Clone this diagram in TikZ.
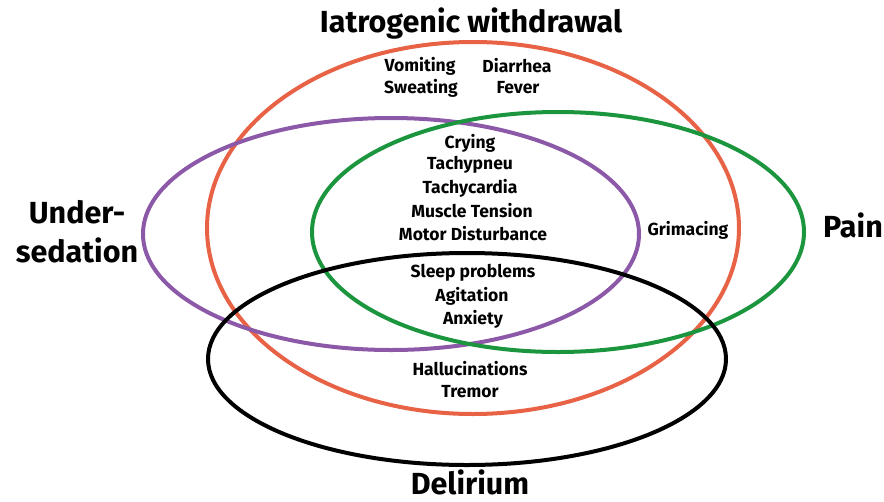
\documentclass[tikz,border=0pt]{standalone}
\usepackage{fontspec}
\setmainfont{Fira Sans}
\definecolor{cred}{RGB}{232,98,70}
\definecolor{cpurple}{RGB}{140,88,168}
\definecolor{cgreen}{RGB}{28,150,62}
\tikzset{
  ring/.style={line width=4pt},
  lbl/.style={font=\bfseries\fontsize{17.5}{21}\selectfont, inner sep=0pt, align=center},
  big/.style={font=\bfseries\fontsize{30.5}{39}\selectfont, inner sep=0pt, align=center}
}
\begin{document}
\begin{tikzpicture}[x=1pt,y=-1pt]
\useasboundingbox (0,0) rectangle (884,501);
\fill[white] (0,0) rectangle (884,501);
\draw[ring,cred] (473,228) ellipse [x radius=266, y radius=186];
\draw[ring,cpurple] (391,234) ellipse [x radius=248, y radius=116];
\draw[ring,cgreen] (558,232) ellipse [x radius=246, y radius=120];
\draw[ring,black] (467,359) ellipse [x radius=259, y radius=106];
\node[big,anchor=base] (iw) at (471,32) {Iatrogenic withdrawal};
\node[big,anchor=base] (us) at (77,262) {Under-\\sedation};
\node[big,anchor=base] (pn) at (853,237) {Pain};
\node[big,anchor=base] (dl) at (470,494) {Delirium};
\node[lbl] (v) at (420,66) {Vomiting};
\node[lbl] (d) at (517,66) {Diarrhea};
\node[lbl] (s) at (421,88) {Sweating};
\node[lbl] (f) at (518,88) {Fever};
\node[lbl] (c1) at (470,143) {Crying};
\node[lbl] (c2) at (470,165) {Tachypneu};
\node[lbl] (c3) at (470,188) {Tachycardia};
\node[lbl] (c4) at (472,211) {Muscle Tension};
\node[lbl] (c5) at (473,234) {Motor Disturbance};
\node[lbl] (g) at (688,230) {Grimacing};
\node[lbl] (s1) at (473,273) {Sleep problems};
\node[lbl] (s2) at (472,296) {Agitation};
\node[lbl] (s3) at (473,319) {Anxiety};
\node[lbl] (h1) at (470,369) {Hallucinations};
\node[lbl] (h2) at (470,392) {Tremor};
\end{tikzpicture}
\end{document}
